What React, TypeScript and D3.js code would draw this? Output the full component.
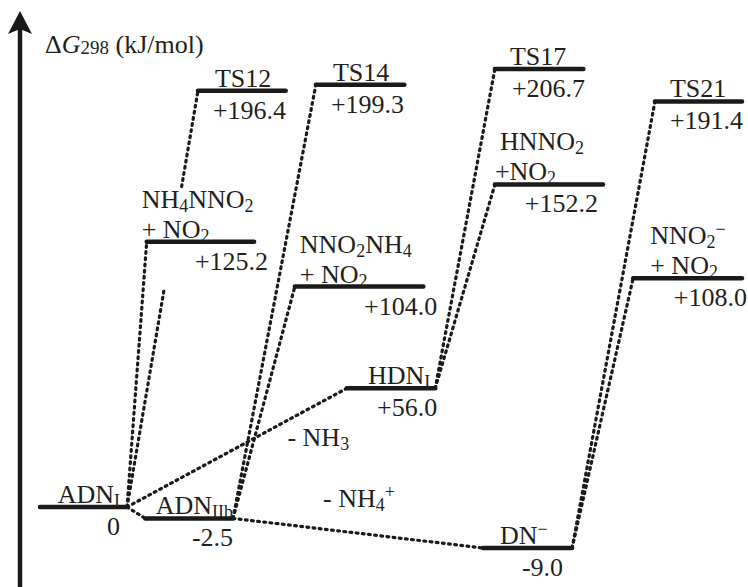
import React from 'react';
import * as d3 from 'd3';

// ---- data ----
const stateIds = ['ADN_I', 'ADN_IIb', 'NH4NNO2', 'TS12', 'NNO2NH4', 'TS14', 'HDN_I', 'TS17', 'HNNO2', 'DN', 'TS21', 'NNO2m'];
const energies = [0, -2.5, 125.2, 196.4, 104.0, 199.3, 56.0, 206.7, 152.2, -9.0, 191.4, 108.0];
const valueLabels = ['0', '-2.5', '+125.2', '+196.4', '+104.0', '+199.3', '+56.0', '+206.7', '+152.2', '-9.0', '+191.4', '+108.0'];
// reaction-coordinate span of each level (arbitrary units 0..100)
const coordStart = [0, 15.0, 15.2, 22.5, 36.3, 39.3, 43.7, 64.8, 64.8, 63.1, 87.6, 84.5];
const coordEnd = [12.4, 27.5, 30.5, 35.0, 54.6, 51.9, 56.3, 77.4, 80.2, 75.8, 100, 100];

type Seg = { t: string; k?: 'sub' | 'sup' | 'it' };
const nameLabels: Seg[][][] = [
  [[{ t: 'ADN' }, { t: 'I', k: 'sub' }]],
  [[{ t: 'ADN' }, { t: 'IIb', k: 'sub' }]],
  [[{ t: 'NH' }, { t: '4', k: 'sub' }, { t: 'NNO' }, { t: '2', k: 'sub' }], [{ t: '+ NO' }, { t: '2', k: 'sub' }]],
  [[{ t: 'TS12' }]],
  [[{ t: 'NNO' }, { t: '2', k: 'sub' }, { t: 'NH' }, { t: '4', k: 'sub' }], [{ t: '+ NO' }, { t: '2', k: 'sub' }]],
  [[{ t: 'TS14' }]],
  [[{ t: 'HDN' }, { t: 'I', k: 'sub' }]],
  [[{ t: 'TS17' }]],
  [[{ t: 'HNNO' }, { t: '2', k: 'sub' }], [{ t: '+NO' }, { t: '2', k: 'sub' }]],
  [[{ t: 'DN' }, { t: '\u2212', k: 'sup' }]],
  [[{ t: 'TS21' }]],
  [[{ t: 'NNO' }, { t: '2', k: 'sub' }, { t: '\u2212', k: 'sup' }], [{ t: '+ NO' }, { t: '2', k: 'sub' }]],
];

// connections: from right end of first level to left end of second level
const connFrom = ['ADN_I', 'ADN_I', 'ADN_I', 'ADN_I', 'ADN_IIb', 'ADN_IIb', 'ADN_IIb', 'HDN_I', 'HDN_I', 'DN', 'DN'];
const connTo = ['ADN_IIb', 'NH4NNO2', 'TS12', 'HDN_I', 'NNO2NH4', 'TS14', 'DN', 'TS17', 'HNNO2', 'TS21', 'NNO2m'];

const lossLabels: { from: string; to: string; segs: Seg[] }[] = [
  { from: 'ADN_I', to: 'HDN_I', segs: [{ t: '- NH' }, { t: '3', k: 'sub' }] },
  { from: 'ADN_IIb', to: 'DN', segs: [{ t: '- NH' }, { t: '4', k: 'sub' }, { t: '+', k: 'sup' }] },
];

// ---- layout / style ----
const FONT = '"Liberation Serif"';
const FS = 26;
const SFS = 18;
const TEXT = '#231f20';
const INK = '#1a1a1a';

// label placement: [anchor, reference end ('s' bar start | 'e' bar end), dx]
const nameLayout: Record<string, [string, string, number][]> = {
  ADN_I: [['end', 'e', -7]],
  ADN_IIb: [['end', 'e', 0]],
  NH4NNO2: [['start', 's', -5], ['start', 's', -5]],
  TS12: [['start', 's', 17]],
  NNO2NH4: [['start', 's', 5], ['start', 's', 5]],
  TS14: [['start', 's', 17]],
  HDN_I: [['end', 'e', -5]],
  TS17: [['start', 's', 15]],
  HNNO2: [['start', 's', 5], ['start', 's', 0]],
  DN: [['start', 's', 17]],
  TS21: [['start', 's', 15]],
  NNO2m: [['start', 's', 17], ['start', 's', 17]],
};
const valueLayout: Record<string, [string, string, number]> = {
  ADN_I: ['end', 'e', -7],
  ADN_IIb: ['end', 'e', 0],
  NH4NNO2: ['end', 'e', 14],
  TS12: ['start', 's', 15],
  NNO2NH4: ['end', 'e', 14],
  TS14: ['start', 's', 15],
  HDN_I: ['end', 'e', 2],
  TS17: ['start', 's', 17],
  HNNO2: ['end', 'e', -5],
  DN: ['end', 'e', -9],
  TS21: ['start', 's', 15],
  NNO2m: ['end', 'e', 5],
};
const lossLayout = [
  { t: 0.73, dx: 0, dy: 26 },
  { t: 0.36, dx: 0, dy: -22 },
];
const gapLayout: Record<string, [number, number]> = { 'ADN_I>TS12': [0.52, 0.77] };

function renderSegs(segs: Seg[]) {
  let shift = 0;
  return segs.map((s, i) => {
    let target = 0;
    let fs = FS;
    let style: string | undefined;
    if (s.k === 'sub') { target = 4; fs = SFS; }
    if (s.k === 'sup') { target = -9; fs = SFS; }
    if (s.k === 'it') style = 'italic';
    const dy = target - shift;
    shift = target;
    return (
      <tspan key={i} style={{ fontSize: fs, fontFamily: FONT, fontStyle: style }} dy={dy}>{s.t}</tspan>
    );
  });
}

const textStyle = { fontFamily: FONT, fontSize: FS };

export default function App() {
  const W = 748;
  const H = 587;
  const x = d3.scaleLinear().domain([0, 100]).range([40, 742]);
  const y = d3.scaleLinear().domain([-9, 0, 210]).range([548, 507, 62]);

  const idx = (id: string) => stateIds.indexOf(id);
  const x0 = (i: number) => x(coordStart[i]);
  const x1 = (i: number) => x(coordEnd[i]);
  const yy = (i: number) => y(energies[i]);

  const line = d3.line<[number, number]>();

  const connectors = connFrom.map((f, k) => {
    const a = idx(f);
    const b = idx(connTo[k]);
    const p0: [number, number] = [x1(a), yy(a)];
    const p1: [number, number] = [x0(b), yy(b)];
    const lerp = (t: number): [number, number] => [p0[0] + (p1[0] - p0[0]) * t, p0[1] + (p1[1] - p0[1]) * t];
    const gap = gapLayout[`${f}>${connTo[k]}`];
    const pieces = gap ? [[0, gap[0]], [gap[1], 1]] : [[0, 1]];
    return pieces.map((pc, j) => (
      <path
        key={`${k}-${j}`}
        d={line([lerp(pc[0]), lerp(pc[1])]) || ''}
        fill="none"
        stroke={INK}
        strokeWidth={3.2}
        strokeDasharray="1.8 4.4"
        strokeLinecap="round"
      />
    ));
  });

  return (
    <svg width={W} height={H} style={{ position: 'fixed', left: 0, top: 0, background: '#fff' }}>
      <rect width={W} height={H} fill="#fff" />
      {/* axis */}
      <line x1={20} x2={20} y1={H} y2={28} stroke={INK} strokeWidth={4.5} />
      <path d="M20,11 L32,34 L20,29 L8,34 Z" fill={INK} />
      <text x={45} y={53} fill={TEXT} style={textStyle}>
        <tspan style={{ fontFamily: FONT }}>Δ</tspan>
        <tspan style={{ fontFamily: FONT, fontStyle: 'italic' }}>G</tspan>
        <tspan style={{ fontFamily: FONT, fontSize: 19 }} dy={1}>298</tspan>
        <tspan style={{ fontFamily: FONT }} dy={-1}> (kJ/mol)</tspan>
      </text>

      {connectors}

      {/* levels */}
      {stateIds.map((id, i) => (
        <line key={id} x1={x0(i)} x2={x1(i)} y1={yy(i)} y2={yy(i)} stroke={INK} strokeWidth={4.5} strokeLinecap="round" />
      ))}

      {/* name labels */}
      {stateIds.map((id, i) => {
        const lines = nameLabels[i];
        const n = lines.length;
        return lines.map((segs, li) => {
          const [anchor, ref, dx] = nameLayout[id][li];
          const bx = (ref === 's' ? x0(i) : x1(i)) + dx;
          const by = yy(i) - 4 - (n - 1 - li) * 30;
          return (
            <text key={`${id}-n${li}`} x={bx} y={by} textAnchor={anchor} fill={TEXT} style={textStyle}>
              {renderSegs(segs)}
            </text>
          );
        });
      })}

      {/* value labels */}
      {stateIds.map((id, i) => {
        const [anchor, ref, dx] = valueLayout[id];
        const bx = (ref === 's' ? x0(i) : x1(i)) + dx;
        return (
          <text key={`${id}-v`} x={bx} y={yy(i) + 28} textAnchor={anchor} fill={TEXT} style={textStyle}>
            {valueLabels[i]}
          </text>
        );
      })}

      {/* loss labels */}
      {lossLabels.map((L, k) => {
        const a = idx(L.from);
        const b = idx(L.to);
        const t = lossLayout[k].t;
        const px = x1(a) + (x0(b) - x1(a)) * t + lossLayout[k].dx;
        const py = yy(a) + (yy(b) - yy(a)) * t + lossLayout[k].dy;
        return (
          <text key={`loss-${k}`} x={px} y={py} fill={TEXT} style={textStyle}>
            {renderSegs(L.segs)}
          </text>
        );
      })}
    </svg>
  );
}
